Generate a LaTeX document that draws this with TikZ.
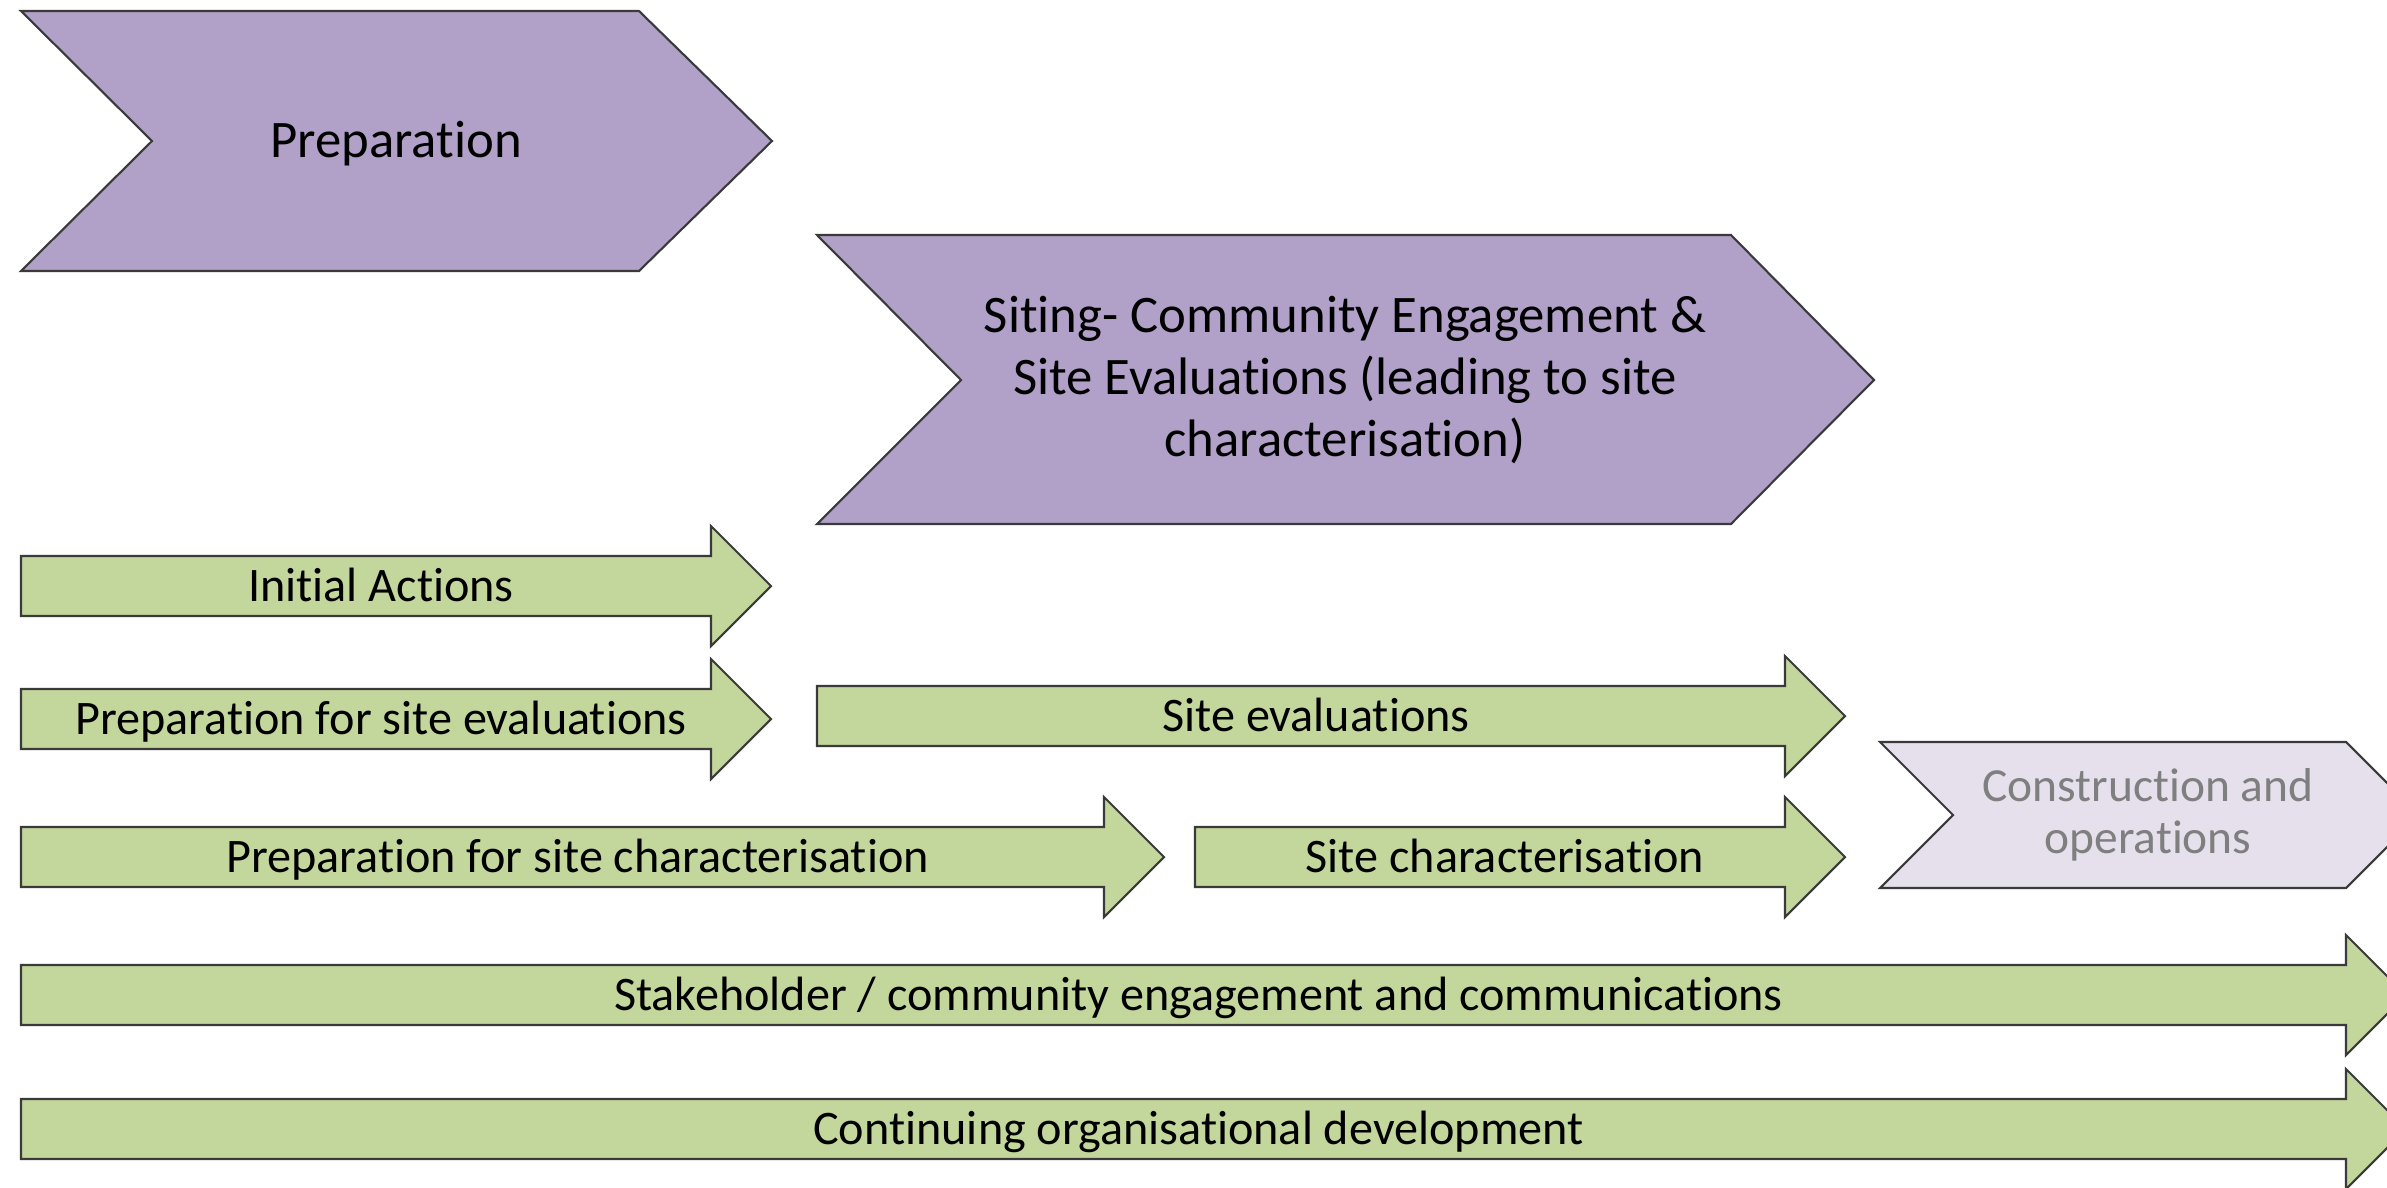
\documentclass[tikz,border=0pt]{standalone}
\usepackage{fontspec}
\setmainfont{Carlito}[Ligatures=NoCommon]
\definecolor{chevpurple}{HTML}{B1A0C7}
\definecolor{arrowgreen}{HTML}{C3D69B}
\definecolor{chevpale}{HTML}{E5E0EC}
\definecolor{edgegrey}{HTML}{3A3A3A}
\definecolor{textgrey}{HTML}{7F7F7F}

\begin{document}
\begin{tikzpicture}[x=0.01cm, y=-0.01cm,
    outline/.style={draw=edgegrey, line width=0.6pt, line join=miter},
    phase/.style={outline, fill=chevpurple},
    later/.style={outline, fill=chevpale},
    task/.style={outline, fill=arrowgreen},
    biglbl/.style={font=\fontsize{15}{17.6}\selectfont, align=center, inner sep=0pt},
    lbl/.style={font=\fontsize{13.7}{14.8}\selectfont, inner sep=0pt, anchor=base}]

    \useasboundingbox (0,0) rectangle (2387,1187);
    \clip (0,0) rectangle (2387,1187);

    % phases
    \draw[phase] (21,11) -- (639,11) -- (772,141) -- (639,271) -- (21,271) -- (152,141) -- cycle;
    \node[biglbl, anchor=base] (prep) at (396,157) {Preparation};
    \draw[phase] (817,235) -- (1731,235) -- (1874,380) -- (1731,524) -- (817,524) -- (961,380) -- cycle;
    \node[biglbl] (siting) at (1345,380) {Siting- Community Engagement \&\\Site Evaluations (leading to site\\characterisation)};
    \draw[later] (1880,742) -- (2346,742) -- (2419,815) -- (2346,888) -- (1880,888) -- (1953,815) -- cycle;
    \node[lbl, font=\fontsize{13.5}{14.8}\selectfont, anchor=center, align=center, text=textgrey] (constr) at (2148,815) {Construction and\\operations};

    % tasks
    \foreach \name/\xl/\xb/\ym/\txt in {
        init/21/711/586/Initial Actions,
        prepeval/21/711/719/Preparation for site evaluations,
        siteeval/817/1785/716/Site evaluations,
        prepchar/21/1104/857/Preparation for site characterisation,
        sitechar/1195/1785/857/Site characterisation,
        stake/21/2346/995/{Stakeholder / community engagement and communications},
        contdev/21/2346/1129/Continuing organisational development}
    {
        \draw[task] (\xl,\ym-30) -- (\xb,\ym-30) -- (\xb,\ym-60) -- (\xb+60,\ym)
            -- (\xb,\ym+60) -- (\xb,\ym+30) -- (\xl,\ym+30) -- cycle;
        \node[lbl] (\name) at ({(\xl+\xb+30)/2},\ym+15) {\txt};
    }
\end{tikzpicture}
\end{document}
